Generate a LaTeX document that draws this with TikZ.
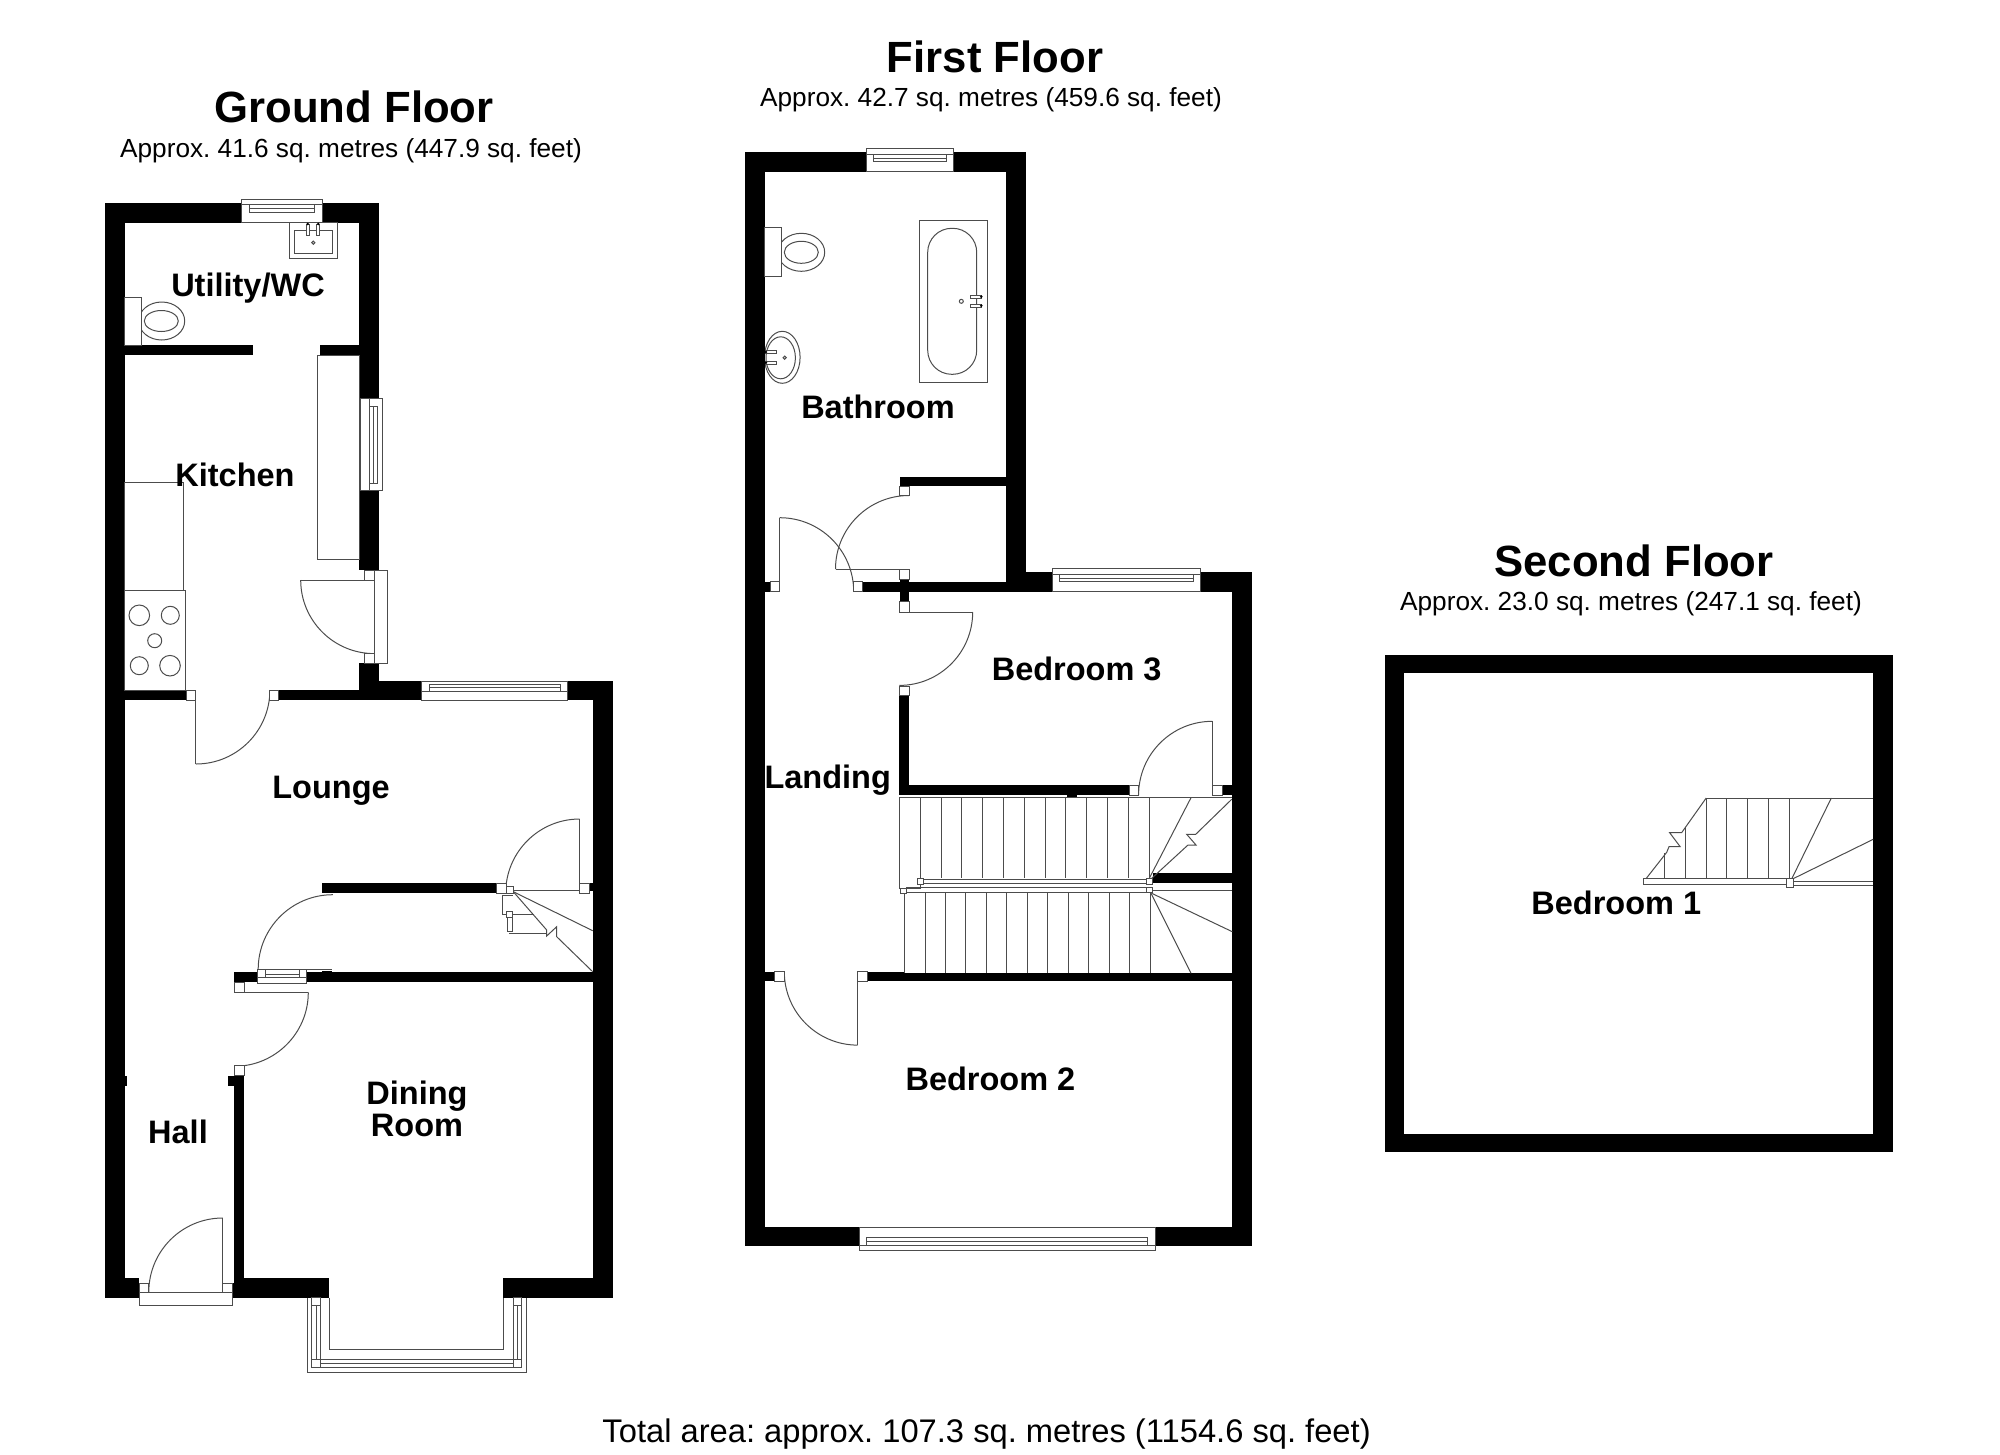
\documentclass[tikz,border=0pt]{standalone}
\usepackage{fontspec}
\setmainfont{Liberation Sans}
\frenchspacing
\tikzset{
    wall/.style={fill=black},
    fitting/.style={draw=black!70,line width=1pt},
    jamb/.style={draw=black!70,line width=1pt,fill=white},
    roomlabel/.style={font=\fontsize{32.5}{32}\selectfont\bfseries,align=center,inner sep=0pt,text height=23.5pt,text depth=0pt},
    floortitle/.style={font=\fontsize{43.7}{44}\selectfont\bfseries,inner sep=0pt},
    floorarea/.style={font=\fontsize{26.2}{26}\selectfont,inner sep=0pt}
}

\begin{document}
\begin{tikzpicture}[x=1pt,y=-1pt]
    \useasboundingbox (0,0) rectangle (2000,1454);

    % ground floor walls
    \fill[wall] (105,203) rectangle (241.7,222.7);
    \fill[wall] (322.3,203) rectangle (379.3,222.7);
    \fill[wall] (105,203) rectangle (124.7,1297.5);
    \fill[wall] (359.3,203) rectangle (379.3,398.3);
    \fill[wall] (359.3,490.7) rectangle (379.3,570);
    \fill[wall] (359.3,663.3) rectangle (379.3,700);
    \fill[wall] (124.7,345.3) rectangle (253.3,355.3);
    \fill[wall] (320,345.3) rectangle (359.3,355.3);
    \fill[wall] (124.7,690) rectangle (186,700);
    \fill[wall] (278.7,690) rectangle (421.7,700);
    \fill[wall] (379.3,681) rectangle (421.7,700);
    \fill[wall] (567.6,681) rectangle (613,700);
    \fill[wall] (593,681) rectangle (613,1297.5);
    \fill[wall] (105,1277.5) rectangle (139,1297.5);
    \fill[wall] (232,1283) rectangle (329.3,1297.5);
    \fill[wall] (234.3,1277.5) rectangle (329.3,1297.5);
    \fill[wall] (503.3,1277.5) rectangle (613,1297.5);
    \fill[wall] (234.3,1075.7) rectangle (244.3,1297.5);
    \fill[wall] (228.3,1075.7) rectangle (244.3,1086);
    \fill[wall] (125,1075.7) rectangle (127.3,1086);
    \fill[wall] (234.3,972.3) rectangle (257.3,982.3);
    \fill[wall] (306.7,972.3) rectangle (593,982.3);
    \fill[wall] (321.7,971) rectangle (331.7,972.3);
    \fill[wall] (322,883.2) rectangle (496.2,893.3);
    \fill[wall] (589,883.2) rectangle (593,891);

    % ground floor windows
    \draw[jamb] (241.7,199.3) rectangle (322.3,222.7);
    \draw[fitting] (241.7,204) -- (322.3,204);
    \draw[fitting] (249.3,204) rectangle (314.3,212.7);
    \draw[fitting] (249.3,208.3) -- (314.3,208.3);
    \draw[jamb] (360,398.3) rectangle (382.7,490.7);
    \draw[fitting] (369.3,398.3) -- (369.3,490.7);
    \draw[fitting] (369.3,406) rectangle (377.3,483.3);
    \draw[fitting] (373.3,406) -- (373.3,483.3);
    \draw[jamb] (421.7,681) rectangle (567.6,700);
    \draw[fitting] (421.7,691) -- (567.6,691);
    \draw[fitting] (429.7,684) rectangle (560.7,691);
    \draw[fitting] (429.7,687.5) -- (560.7,687.5);
    \draw[jamb] (257.3,969.3) rectangle (306.7,983);
    \draw[fitting] (257.3,977.7) -- (306.7,977.7);
    \draw[fitting] (265,969.3) -- (265,977.7);
    \draw[fitting] (299,969.3) -- (299,977.7);
    \draw[fitting] (265,974) -- (299,974);

    % bay window
    \draw[fitting] (329.3,1297.5) -- (329.3,1349.7) -- (503.3,1349.7) -- (503.3,1297.5);
    \draw[fitting] (307,1297.5) -- (307,1372.3) -- (526.3,1372.3) -- (526.3,1297.5);
    \draw[fitting] (311.7,1297.5) -- (311.7,1367.3) -- (521.7,1367.3) -- (521.7,1297.5);
    \draw[fitting] (320,1297.5) -- (320,1359.3) -- (513.3,1359.3) -- (513.3,1297.5);
    \draw[fitting] (316,1305.7) -- (316,1359.3);
    \draw[fitting] (517.7,1305.7) -- (517.7,1359.3);
    \draw[fitting] (320,1363) -- (513.3,1363);
    \draw[jamb] (311.7,1297.5) rectangle (320,1305.7);
    \draw[jamb] (513.3,1297.5) rectangle (521.7,1305.7);
    \draw[jamb] (311.7,1359.3) rectangle (320,1367.3);
    \draw[jamb] (513.3,1359.3) rectangle (521.7,1367.3);

    % ground floor doors
    \draw[fitting] (300.7,580) -- (374.3,580);
    \draw[fitting] (300.7,580) arc[start angle=180,end angle=90,radius=73.6];
    \draw[jamb] (374.3,570) rectangle (387.3,663.3);
    \draw[jamb] (364.3,570.7) rectangle (374.3,580);
    \draw[jamb] (364.3,653.3) rectangle (374.3,663.3);
    \draw[fitting] (195.9,700) -- (195.9,764);
    \draw[fitting] (195.9,764) arc[start angle=90,end angle=0,radius=74];
    \draw[jamb] (186,690) rectangle (195.9,700);
    \draw[jamb] (269.3,690) rectangle (278.7,700);
    \draw[fitting] (579.7,819) -- (579.7,883);
    \draw[fitting] (579.7,819) arc[start angle=-90,end angle=-180,radius=74];
    \draw[jamb] (496.2,883.2) rectangle (506.2,893.3);
    \draw[jamb] (579.7,883.2) rectangle (589,893.3);
    \draw[fitting] (306.7,969.3) -- (331.7,969.3);
    \draw[fitting] (332.8,894.7) arc[start angle=-90,end angle=-180,radius=74.6];
    \draw[fitting] (244.3,992.3) -- (308.3,992.3);
    \draw[fitting] (308.3,992.3) arc[start angle=0,end angle=90,radius=74];
    \draw[jamb] (234.3,982.3) rectangle (244.3,992.3);
    \draw[jamb] (234.3,1065.7) rectangle (244.3,1075.7);
    \draw[fitting] (222.8,1218) -- (222.8,1283);
    \draw[fitting] (222.8,1218) arc[start angle=-90,end angle=-180,radius=74];
    \draw[jamb] (139,1283) rectangle (148.6,1292);
    \draw[jamb] (222.8,1283) rectangle (232,1292);
    \draw[jamb] (139,1292) rectangle (232,1305);

    % ground floor fittings
    \draw[jamb] (289,222.7) rectangle (337.7,258.3);
    \draw[fitting] (294,230.7) rectangle (332.7,253.3);
    \draw[jamb] (306.2,224) rectangle (309.2,235);
    \draw[jamb] (316.8,224) rectangle (319.8,235);
    \fill (307.7,224) circle (1.4);
    \fill (318.3,224) circle (1.4);
    \draw[fitting] (313.3,242.7) circle (1.6);
    \draw[fitting] (161.7,321) ellipse (23 and 19);
    \draw[fitting] (161.3,321) ellipse (17 and 10.5);
    \draw[jamb] (124.7,297.3) rectangle (141.7,345.3);
    \draw[fitting] (317.7,355.3) rectangle (359.3,559);
    \draw[fitting] (124.7,482.7) rectangle (183.3,590);
    \draw[fitting] (124.7,590) rectangle (185.7,690);
    \draw[fitting] (139.3,615.3) circle (10.3);
    \draw[fitting] (170.3,615.3) circle (9);
    \draw[fitting] (154.7,640.7) circle (7);
    \draw[fitting] (139.3,665.7) circle (9);
    \draw[fitting] (170,665.7) circle (10.3);

    % stairs under the lounge wall
    \draw[fitting] (513.3,890.3) -- (579.7,890.3);
    \draw[fitting] (502.7,895) -- (502.7,914) -- (506.7,914);
    \draw[fitting] (502.7,895) -- (513.3,895);
    \draw[fitting] (512.7,914.3) -- (534,914.3);
    \draw[fitting] (509.3,933.3) -- (546.7,933.3);
    \draw[fitting] (513.3,891.7) -- (546.7,930) -- (546.7,936) -- (556.7,926.7) -- (556.7,936.7) -- (592.7,971.7);
    \draw[fitting] (513.3,891.7) -- (592.7,930.7);
    \draw[jamb] (506.7,886.7) rectangle (513.3,893.3);
    \draw[jamb] (506.7,911) rectangle (512.7,917.7);
    \draw[jamb] (507.7,917.7) rectangle (512.3,931);

    % first floor walls
    \fill[wall] (745,152.3) rectangle (866,172);
    \fill[wall] (953.3,152.3) rectangle (1026,172);
    \fill[wall] (745,152.3) rectangle (764.7,1246);
    \fill[wall] (1006,152.3) rectangle (1026,591.7);
    \fill[wall] (900,476.7) rectangle (1006,486);
    \fill[wall] (862.7,581.7) rectangle (1052,591.7);
    \fill[wall] (1026,571.7) rectangle (1052,591.7);
    \fill[wall] (1200,572) rectangle (1252,591.7);
    \fill[wall] (1232.3,572) rectangle (1252,1246);
    \fill[wall] (764.7,581.7) rectangle (770,591.7);
    \fill[wall] (900,579) rectangle (909.3,601.7);
    \fill[wall] (899.3,695.3) rectangle (909.3,795);
    \fill[wall] (899.3,785) rectangle (1129,795);
    \fill[wall] (1222,785) rectangle (1232.3,795);
    \fill[wall] (1066.7,795) rectangle (1076.7,797.7);
    \fill[wall] (1152.7,872.7) rectangle (1232.3,882.7);
    \fill[wall] (867.3,973.3) rectangle (1232.3,981);
    \fill[wall] (867.3,971.7) rectangle (904.7,981);
    \fill[wall] (764.7,971.7) rectangle (774.3,981);
    \fill[wall] (745,1227) rectangle (859,1246);
    \fill[wall] (1155.3,1227) rectangle (1252,1246);

    % first floor windows
    \draw[jamb] (866,148.3) rectangle (953.3,171);
    \draw[fitting] (866,154) -- (953.3,154);
    \draw[fitting] (873.3,154) rectangle (946.7,161.7);
    \draw[fitting] (873.3,158) -- (946.7,158);
    \draw[jamb] (1052,568.3) rectangle (1200,591);
    \draw[fitting] (1052,574) -- (1200,574);
    \draw[fitting] (1059.3,574) rectangle (1193.3,581.7);
    \draw[fitting] (1059.3,578) -- (1193.3,578);
    \draw[jamb] (859,1227) rectangle (1155.3,1250);
    \draw[fitting] (866.7,1237) rectangle (1147.3,1245);
    \draw[fitting] (866.7,1241) -- (1147.3,1241);
    \draw[fitting] (859,1245) -- (1155.3,1245);

    % first floor doors
    \draw[fitting] (779.7,517.7) -- (779.7,581.7);
    \draw[fitting] (779.7,517.7) arc[start angle=-90,end angle=0,radius=74];
    \draw[jamb] (770,581.7) rectangle (779.7,591.7);
    \draw[jamb] (853.3,581.7) rectangle (862.7,591.7);
    \draw[fitting] (835.5,569) -- (899,569);
    \draw[fitting] (835.5,569) arc[start angle=180,end angle=270,radius=73.5];
    \draw[jamb] (899,486) rectangle (909,495.7);
    \draw[jamb] (899,569) rectangle (909,579);
    \draw[fitting] (909.3,612) -- (972.7,612);
    \draw[fitting] (972.7,612) arc[start angle=0,end angle=90,radius=73.4];
    \draw[jamb] (899.3,601.7) rectangle (909.3,612);
    \draw[jamb] (899.3,686) rectangle (909.3,695.3);
    \draw[fitting] (1212.3,721.3) -- (1212.3,785);
    \draw[fitting] (1212.3,721.3) arc[start angle=-90,end angle=-180,radius=73.7];
    \draw[jamb] (1129,785) rectangle (1138.7,795);
    \draw[jamb] (1212.3,785) rectangle (1222,795);
    \draw[fitting] (857.7,981) -- (857.7,1045.1);
    \draw[fitting] (857.7,1045.1) arc[start angle=90,end angle=180,radius=73.4];
    \draw[jamb] (774.3,971.7) rectangle (784.3,981);
    \draw[jamb] (857.7,971.7) rectangle (867.3,981);

    % bathroom fittings
    \draw[fitting] (801.3,252.3) ellipse (23.4 and 19);
    \draw[fitting] (801.3,252.3) ellipse (17 and 11);
    \draw[jamb] (764.7,227.7) rectangle (781.7,276);
    \draw[fitting] (919.3,220) rectangle (987.7,382.7);
    \draw[fitting,rounded corners=24] (927.7,228.3) rectangle (976.7,374.3);
    \draw[fitting] (961.3,301.3) circle (2);
    \draw[jamb] (970.7,295.3) rectangle (981.7,298);
    \draw[jamb] (970.7,304.3) rectangle (981.7,307);
    \fill (981.3,296.7) circle (1.4);
    \fill (981.3,305.7) circle (1.4);
    \draw[fitting] (782.3,357.3) ellipse (17.8 and 26);
    \draw[fitting] (780.7,357.8) ellipse (14.7 and 21);
    \fill[wall] (745,325) rectangle (764.7,390);
    \draw[fitting] (784.7,357.7) circle (1.6);
    \draw[jamb] (765.7,350.7) rectangle (776.7,353.3);
    \draw[jamb] (765.7,361.3) rectangle (776.7,364);
    \fill (766,352) circle (1.4);
    \fill (766,362.7) circle (1.4);

    % first floor stairs, upper flight
    \draw[fitting] (899.3,797.7) -- (1232.3,797.7);
    \draw[fitting] (899.3,797.7) -- (899.3,888.3) -- (920.3,888.3) -- (920.3,884.3);
    \draw[fitting] (920.3,797.7) -- + (0,80.6);
    \draw[fitting] (941,797.7) -- + (0,80.6);
    \draw[fitting] (961.7,797.7) -- + (0,80.6);
    \draw[fitting] (982.7,797.7) -- + (0,80.6);
    \draw[fitting] (1003.3,797.7) -- + (0,80.6);
    \draw[fitting] (1024.3,797.7) -- + (0,80.6);
    \draw[fitting] (1045,797.7) -- + (0,80.6);
    \draw[fitting] (1065.7,797.7) -- + (0,80.6);
    \draw[fitting] (1086.7,797.7) -- + (0,80.6);
    \draw[fitting] (1107.7,797.7) -- + (0,80.6);
    \draw[fitting] (1128.7,797.7) -- + (0,80.6);
    \draw[fitting] (1149.3,797.7) -- + (0,80.6);
    \draw[fitting] (1149.3,878.3) -- (1191,797.7);
    \draw[fitting] (1151.7,878.3) -- (1188,845) -- (1196,845) -- (1186.7,834.3) -- (1195.7,834.3) -- (1231.7,799.3);
    \draw[fitting] (923.3,879) rectangle (1146.7,883.7);
    \draw[jamb] (917.3,878.3) rectangle (923.3,884.3);
    \draw[jamb] (1146.7,878.3) rectangle (1152.7,884.3);

    % first floor stairs, lower flight
    \draw[fitting] (906.7,887.7) rectangle (1146.7,892.3);
    \draw[jamb] (900.7,888.3) rectangle (906.7,893.3);
    \draw[jamb] (1146.7,887.3) rectangle (1152.7,892.7);
    \draw[fitting] (1152.7,890.7) -- (1232.3,890.7);
    \draw[fitting] (904.7,893.3) -- (904.7,973.3);
    \draw[fitting] (925,892.3) -- + (0,81);
    \draw[fitting] (945.3,892.3) -- + (0,81);
    \draw[fitting] (965.7,892.3) -- + (0,81);
    \draw[fitting] (986.3,892.3) -- + (0,81);
    \draw[fitting] (1006.7,892.3) -- + (0,81);
    \draw[fitting] (1027.3,892.3) -- + (0,81);
    \draw[fitting] (1047.7,892.3) -- + (0,81);
    \draw[fitting] (1068.3,892.3) -- + (0,81);
    \draw[fitting] (1088.7,892.3) -- + (0,81);
    \draw[fitting] (1109,892.3) -- + (0,81);
    \draw[fitting] (1129.7,892.3) -- + (0,81);
    \draw[fitting] (1150,892.7) -- + (0,80.6);
    \draw[fitting] (1151,893.3) -- (1191,973.3);
    \draw[fitting] (1151.7,893.3) -- (1232.3,931.7);

    % second floor walls
    \fill[wall] (1384.7,654.7) rectangle (1892.5,673.3);
    \fill[wall] (1384.7,1134) rectangle (1892.5,1152);
    \fill[wall] (1384.7,654.7) rectangle (1404.3,1152);
    \fill[wall] (1873.2,654.7) rectangle (1892.5,1152);

    % second floor stairs
    \draw[fitting] (1706.2,798) -- (1873.2,798);
    \draw[fitting] (1643.7,878.7) rectangle (1786.7,884);
    \draw[fitting] (1793.1,881) -- (1873.2,881);
    \draw[fitting] (1793.1,885) -- (1873.2,885);
    \draw[fitting] (1664,878.7) -- (1664,852.7);
    \draw[fitting] (1685,878.7) -- (1685,826.7);
    \draw[fitting] (1706.2,878.7) -- (1706.2,798);
    \draw[fitting] (1726.9,878.7) -- (1726.9,798);
    \draw[fitting] (1747.8,878.7) -- (1747.8,798);
    \draw[fitting] (1768.8,878.7) -- (1768.8,798);
    \draw[fitting] (1789.4,878.7) -- (1789.4,798);
    \draw[fitting] (1646,878.7) -- (1666.7,852.3) -- (1669,846.7) -- (1680.2,846.7) -- (1669.7,832.7) -- (1681.6,832.7) -- (1706.2,798);
    \draw[fitting] (1791.8,878.7) -- (1831.3,798);
    \draw[fitting] (1793.1,878.7) -- (1873.2,839.3);
    \draw[jamb] (1786.7,878.3) rectangle (1793.1,887.7);

    % titles
    \node[floortitle] (groundtitle) at (354,107) {Ground Floor};
    \node[floorarea] (groundarea) at (351,151) {Approx. 41.6 sq. metres (447.9 sq. feet)};
    \node[floortitle] (firsttitle) at (995,57) {First Floor};
    \node[floorarea] (firstarea) at (991,100) {Approx. 42.7 sq. metres (459.6 sq. feet)};
    \node[floortitle] (secondtitle) at (1634,561) {Second Floor};
    \node[floorarea] (secondarea) at (1631,604) {Approx. 23.0 sq. metres (247.1 sq. feet)};
    \node[font=\fontsize{32.7}{33}\selectfont,inner sep=0pt] (totalarea) at (986.6,1434) {Total area: approx. 107.3 sq. metres (1154.6 sq. feet)};

    % room labels
    \node[roomlabel] (utility) at (248,285) {Utility/WC};
    \node[roomlabel] (kitchen) at (235,475) {Kitchen};
    \node[roomlabel] (lounge) at (331,787) {Lounge};
    \node[roomlabel] (hall) at (178,1132) {Hall};
    \node[roomlabel] (diningtop) at (417,1093) {Dining};
    \node[roomlabel] (diningbottom) at (417,1125) {Room};
    \node[roomlabel] (bathroom) at (878,407) {Bathroom};
    \node[roomlabel] (bedthree) at (1076.7,669) {Bedroom 3};
    \node[roomlabel] (landing) at (827.7,777) {Landing};
    \node[roomlabel] (bedtwo) at (990.4,1079) {Bedroom 2};
    \node[roomlabel] (bedone) at (1616.3,903) {Bedroom 1};
\end{tikzpicture}
\end{document}
